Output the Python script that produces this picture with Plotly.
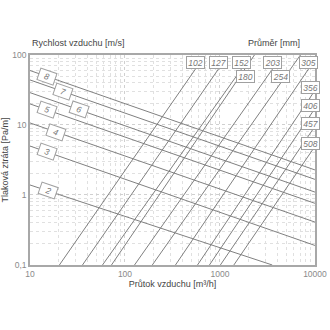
import numpy as np
import plotly.graph_objects as go

# ---- data ----
# duct diameter lines [mm]: start/end points (flow m3/h, pressure loss Pa/m)
diam_labels = ["102", "127", "152", "180", "203", "254", "305", "356", "406", "457", "508"]
diam_q_start = [20.4, 35.7, 58, 72.1, 126, 194, 340, 580, 775, 1010, 1400]
diam_p_start = [0.1, 0.1, 0.1, 0.1, 0.1, 0.1, 0.1, 0.1, 0.1, 0.1, 0.1]
diam_q_end = [552, 964, 1683, 2307, 3573, 7031, 8551, 9420, 9420, 9420, 9420]
diam_p_end = [63, 63, 63, 100, 63, 100, 63, 27.7, 15.3, 8.5, 4.4]
# label positions for diameter lines
diam_label_q = [552, 964, 1683, 1853, 3573, 4335, 8551, 9000, 9000, 9000, 9000]
diam_label_p = [63, 63, 63, 48.5, 63, 48.5, 63, 27.7, 15.3, 8.5, 4.4]
diam_label_mid = [False, False, False, True, False, True, False, False, False, False, False]

# air velocity lines [m/s]
vel_labels = ["2", "3", "4", "5", "6", "7", "8"]
vel_q_start = [10, 10, 10, 10, 10, 10, 10]
vel_p_start = [1.39, 5.0, 10.7, 20, 29, 44, 60]
vel_q_end = [3550, 10000, 10000, 10000, 10000, 10000, 10000]
vel_p_end = [0.1, 0.19, 0.41, 0.76, 1.1, 1.67, 2.28]
vel_label_q = [15.5, 15, 19, 15, 33, 22, 15]

x_tickvals = [10, 100, 1000, 10000]
x_ticktext = ["10", "100", "1000", "10000"]
y_tickvals = [0.1, 1, 10, 100]
y_ticktext = ["0,1", "1", "10", "100"]

LINE = "#808080"
FONT = "Liberation Sans, Arial, sans-serif"

fig = go.Figure()

for i in range(len(diam_labels)):
    fig.add_trace(go.Scatter(
        x=[diam_q_start[i], diam_q_end[i]], y=[diam_p_start[i], diam_p_end[i]],
        mode="lines", line=dict(color=LINE, width=1), hoverinfo="skip", showlegend=False))

for i in range(len(vel_labels)):
    fig.add_trace(go.Scatter(
        x=[vel_q_start[i], vel_q_end[i]], y=[vel_p_start[i], vel_p_end[i]],
        mode="lines", line=dict(color=LINE, width=1), hoverinfo="skip", showlegend=False))

annotations = []
box = dict(bgcolor="white", bordercolor="#a0a0a0", borderwidth=1, borderpad=1,
           showarrow=False, font=dict(family=FONT, size=8.5, color="#777"))

for i, lab in enumerate(diam_labels):
    annotations.append(dict(
        x=np.log10(diam_label_q[i]), y=np.log10(diam_label_p[i]), xref="x", yref="y",
        text="<i>" + lab + "</i>", xanchor="center", width=15, height=9,
        yanchor="middle" if diam_label_mid[i] else "bottom", **box))

for i, lab in enumerate(vel_labels):
    lq0, lq1 = np.log10(vel_q_start[i]), np.log10(vel_q_end[i])
    lp0, lp1 = np.log10(vel_p_start[i]), np.log10(vel_p_end[i])
    lq = np.log10(vel_label_q[i])
    lp = lp0 + (lp1 - lp0) * (lq - lq0) / (lq1 - lq0)
    annotations.append(dict(
        x=lq, y=lp, xref="x", yref="y", text="<i>" + lab + "</i>",
        xanchor="center", yanchor="middle", textangle=19, width=14, height=9, **box))

annotations.append(dict(x=0, y=1.025, xref="paper", yref="paper", xanchor="left",
                        yanchor="bottom", showarrow=False, text="Rychlost vzduchu [m/s]",
                        font=dict(family=FONT, size=9, color="#444")))
annotations.append(dict(x=0.956, y=1.025, xref="paper", yref="paper", xanchor="right",
                        yanchor="bottom", showarrow=False, text="Průměr [mm]",
                        font=dict(family=FONT, size=9, color="#444")))

grid_major = "#d0d0d0"
grid_minor = "#e0e0e0"

fig.update_layout(
    width=330, height=330,
    margin=dict(l=29.5, r=15, t=55, b=65),
    paper_bgcolor="white", plot_bgcolor="white",
    font=dict(family=FONT, size=9, color="#888"),
    annotations=annotations,
    xaxis=dict(
        type="log", range=[1, 4.0005], tickvals=x_tickvals, ticktext=x_ticktext,
        automargin=False,
        showline=True, mirror=True, linecolor="#a8a8a8", linewidth=1.5,
        showgrid=True, gridcolor=grid_major, griddash="dot", gridwidth=1,
        ticks="", zeroline=False,
        tickfont=dict(size=8.5, color="#8a8a8a"),
        title=dict(text="Průtok vzduchu [m³/h]", font=dict(size=9, color="#444"), standoff=3),
        minor=dict(dtick="D1", showgrid=True, gridcolor=grid_minor, griddash="dot", ticks=""),
    ),
    yaxis=dict(
        type="log", range=[-1.0005, 2], tickvals=y_tickvals, ticktext=y_ticktext,
        automargin=False,
        showline=True, mirror=True, linecolor="#a8a8a8", linewidth=1.5,
        showgrid=True, gridcolor=grid_major, griddash="dot", gridwidth=1,
        ticks="", zeroline=False,
        tickfont=dict(size=8.5, color="#8a8a8a"),
        title=dict(text="Tlaková ztráta [Pa/m]", font=dict(size=9, color="#444"), standoff=2),
        minor=dict(dtick="D1", showgrid=True, gridcolor=grid_minor, griddash="dot", ticks=""),
    ),
)

fig.write_html("out.html")
